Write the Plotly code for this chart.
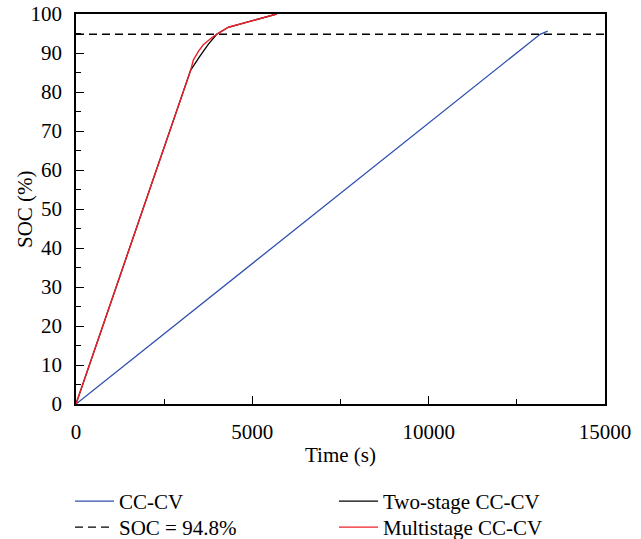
import plotly.graph_objects as go

# Charging profiles: time (s) vs state of charge (%)
cccv_time = [0, 13160, 13375]
cccv_soc = [0, 94.8, 95.6]

two_stage_time = [0, 3252, 3500, 3750, 3989, 4319, 5690]
two_stage_soc = [0, 85.6, 89.0, 92.2, 94.8, 96.6, 100]

multi_time = [0, 3252, 3327, 3470, 3610, 3740, 3847, 3989, 4319, 5690]
multi_soc = [0, 85.6, 88.2, 90.4, 92.1, 93.2, 93.9, 94.8, 96.6, 100]

soc_ref = 94.8
x_range = [0, 15000]

FONT = "Liberation Serif"
FS = 21

fig = go.Figure()

fig.add_trace(go.Scatter(
    x=cccv_time, y=cccv_soc, mode="lines", name="CC-CV",
    line=dict(color="#2f4fae", width=1.3), legend="legend",
))
fig.add_trace(go.Scatter(
    x=x_range, y=[soc_ref, soc_ref], mode="lines", name="SOC = 94.8%",
    line=dict(color="black", width=1.4, dash="8px,5px"), legend="legend3",
))
fig.add_trace(go.Scatter(
    x=two_stage_time, y=two_stage_soc, mode="lines", name="Two-stage CC-CV",
    line=dict(color="black", width=1.3), legend="legend2",
))
fig.add_trace(go.Scatter(
    x=multi_time, y=multi_soc, mode="lines", name="Multistage CC-CV",
    line=dict(color="#f0202a", width=1.4), legend="legend4",
))

axis_common = dict(
    showline=True, linecolor="black", linewidth=1.5, mirror=True,
    showgrid=False, zeroline=False, automargin=True,
    ticks="inside", ticklen=8, tickwidth=1.3, tickcolor="black",
    tickfont=dict(family=FONT, size=FS, color="black"),
)

fig.update_xaxes(
    range=x_range, tickvals=[0, 5000, 10000, 15000],
    ticktext=["0", "5000", "10000", "15000"],
    minor=dict(ticks="inside", ticklen=5, tickwidth=1.3, tickcolor="black", dtick=2500),
    title=dict(text="Time (s)", font=dict(family=FONT, size=FS, color="black"), standoff=4),
    ticklabelstandoff=8,
    **axis_common,
)
fig.update_yaxes(
    range=[0, 100], dtick=10,
    minor=dict(ticks="inside", ticklen=5, tickwidth=1.3, tickcolor="black", dtick=5),
    ticklabelstandoff=8,
    **axis_common,
)

# y-axis title, set beside the tick labels
fig.add_annotation(
    text="SOC (%)", textangle=-90, showarrow=False,
    xref="paper", yref="paper", x=(25 - 76) / 529, y=0.5,
    xanchor="center", yanchor="middle",
    font=dict(family=FONT, size=FS, color="black"),
)

legend_common = dict(
    orientation="v", xref="container", yref="container",
    xanchor="left", yanchor="top",
    itemwidth=39, tracegroupgap=0,
    font=dict(family=FONT, size=FS, color="black"),
    bgcolor="rgba(0,0,0,0)",
)
row1_top, row2_top = 481, 507
col1_x, col2_x = 70, 334

fig.update_layout(
    width=641, height=539,
    margin=dict(l=76, r=36, t=14, b=135, autoexpand=False),
    paper_bgcolor="white", plot_bgcolor="white",
    font=dict(family=FONT, size=FS, color="black"),
    showlegend=True,
    legend=dict(x=col1_x / 641, y=1 - row1_top / 539, **legend_common),
    legend2=dict(x=col2_x / 641, y=1 - row1_top / 539, **legend_common),
    legend3=dict(x=col1_x / 641, y=1 - row2_top / 539, **legend_common),
    legend4=dict(x=col2_x / 641, y=1 - row2_top / 539, **legend_common),
)

fig.write_html("out.html")
